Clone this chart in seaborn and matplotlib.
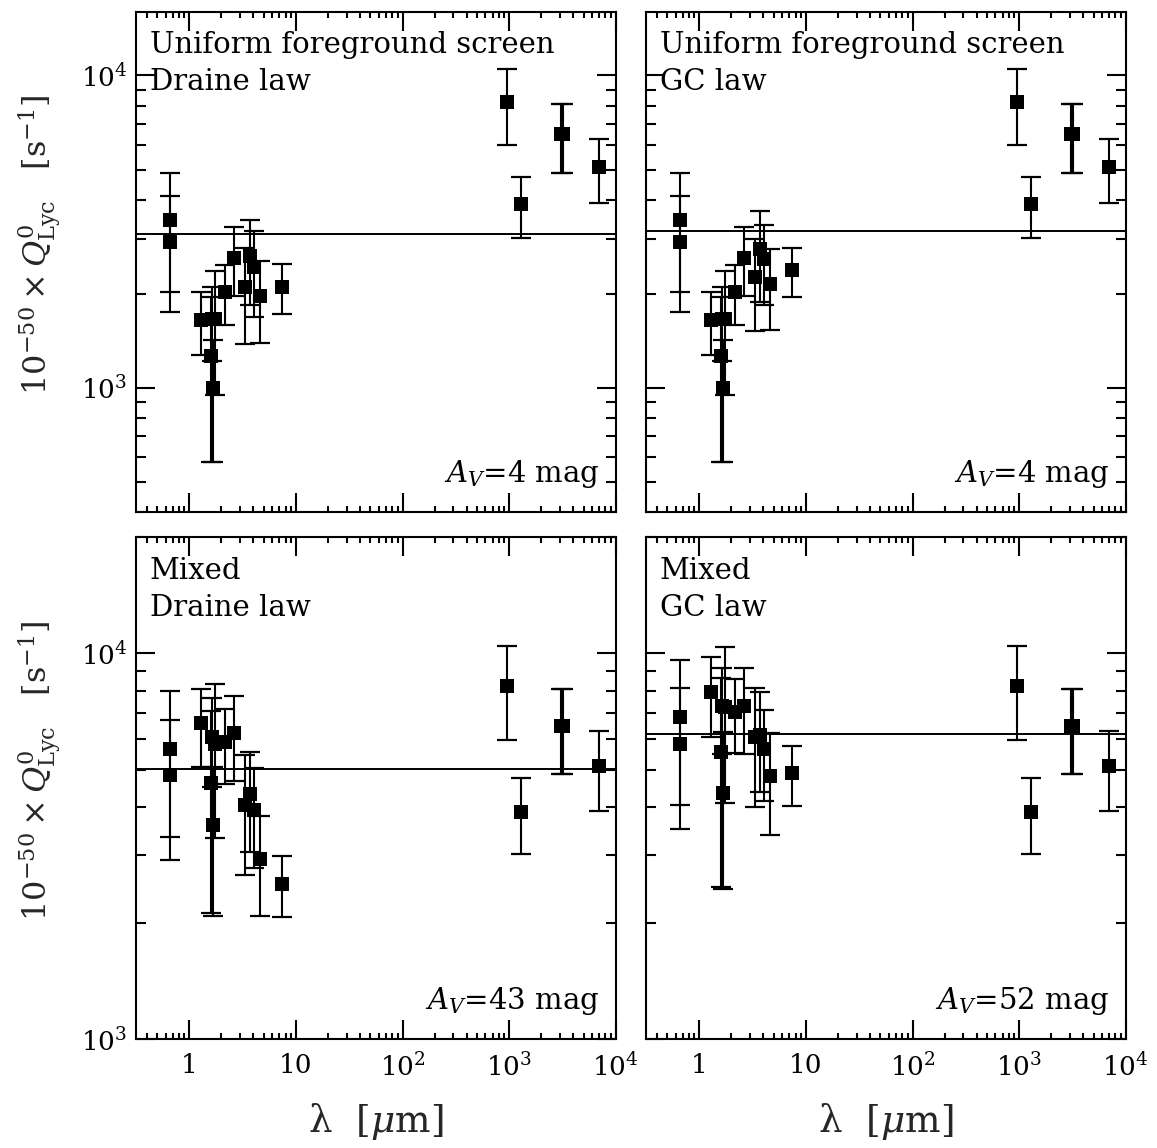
import numpy as np
import pandas as pd
import matplotlib
matplotlib.use("Agg")
import matplotlib.pyplot as plt
import seaborn as sns
from matplotlib.ticker import FixedLocator, FixedFormatter, LogLocator, NullFormatter

# ---------------- data ----------------
line_names = ["Ha_a", "Ha_b", "Pab", "Br13", "Br12", "Br11", "Br10", "Brg", "Brb",
              "Pfd", "Pfg", "Bra", "Pfb", "Pfa", "R1", "R2", "R3a", "R3b", "R4"]
wavelength_um = [0.6563, 0.6563, 1.282, 1.611, 1.641, 1.681, 1.737, 2.166, 2.626,
                 3.297, 3.741, 4.052, 4.654, 7.460, 946, 1288, 3035, 3212, 6985]

q_screen_draine = [3460, 2940, 1653, 1268, 1660, 1000, 1661, 2035, 2615,
                   2097, 2647, 2430, 1973, 2107, 8220, 3890, 6480, 6480, 5094]
err_screen_draine = [1425, 1185, 380, 690, 437, 420, 713, 444, 650,
                     712, 800, 740, 580, 378, 2240, 860, 1620, 1620, 1190]

q_screen_gc = [3460, 2940, 1653, 1268, 1660, 1000, 1661, 2035, 2615,
               2257, 2781, 2583, 2159, 2383, 8220, 3890, 6480, 6480, 5094]
err_screen_gc = [1425, 1185, 380, 690, 437, 420, 713, 444, 650,
                 740, 894, 736, 625, 424, 2240, 860, 1620, 1620, 1190]

q_mixed_draine = [5657, 4828, 6592, 4611, 6087, 3584, 5830, 5888, 6212,
                  4054, 4311, 3919, 2939, 2533, 8220, 3890, 6480, 6480, 5094]
err_mixed_draine = [2316, 1914, 1518, 2490, 1580, 1500, 2500, 1302, 1535,
                    1389, 1245, 1140, 850, 456, 2240, 860, 1620, 1620, 1190]

q_mixed_gc = [6830, 5830, 7927, 5546, 7323, 4345, 7250, 7038, 7323,
              6064, 6162, 5657, 4799, 4894, 8220, 3890, 6480, 6480, 5094]
err_mixed_gc = [2780, 2322, 1841, 3070, 1850, 1900, 3150, 1530, 1830,
                2062, 1780, 1500, 1410, 874, 2240, 860, 1620, 1620, 1190]

mean_q = [3105, 3182, 5024, 6186]
panel_line1 = ["Uniform foreground screen", "Uniform foreground screen", "Mixed", "Mixed"]
panel_line2 = ["Draine law", "GC law", "Draine law", "GC law"]
av_mag = [4, 4, 43, 52]

x_ticks = [1, 10, 100, 1000, 10000]
x_tick_labels = ["1", "10", "$10^2$", "$10^3$", "$10^4$"]
y_ticks = [1000, 10000]
y_tick_labels = ["$10^3$", "$10^4$"]

# ---------------- style ----------------
sns.set_theme(style="ticks")
plt.rcParams["font.family"] = ["DejaVu Serif"]
plt.rcParams["mathtext.fontset"] = "dejavuserif"
plt.rcParams["axes.edgecolor"] = "black"
plt.rcParams["axes.linewidth"] = 1.5
plt.rcParams["xtick.color"] = "black"
plt.rcParams["ytick.color"] = "black"

fig = plt.figure(figsize=(11.57, 11.48), dpi=100)

positions = [(0.11755, 0.55375, 0.41461, 0.43606),
             (0.55834, 0.55375, 0.41461, 0.43606),
             (0.11755, 0.09469, 0.41461, 0.43728),
             (0.55834, 0.09469, 0.41461, 0.43728)]
q_sets = [q_screen_draine, q_screen_gc, q_mixed_draine, q_mixed_gc]
err_sets = [err_screen_draine, err_screen_gc, err_mixed_draine, err_mixed_gc]
ylims = [(400, 16000), (400, 16000), (1000, 20000), (1000, 20000)]

for i in range(4):
    ax = fig.add_axes(positions[i])
    ax.set_xscale("log")
    ax.set_yscale("log")
    df = pd.DataFrame({"line": line_names, "wavelength": wavelength_um,
                       "Q": q_sets[i], "err": err_sets[i]})
    ax.axhline(mean_q[i], color="black", lw=1.4, zorder=1)
    ax.errorbar(df["wavelength"], df["Q"], yerr=df["err"], fmt="none",
                ecolor="black", elinewidth=1.5, capsize=7, capthick=1.6, zorder=2)
    sns.scatterplot(data=df, x="wavelength", y="Q", marker="s", s=100,
                    color="black", linewidth=0, ax=ax, zorder=3, legend=False)
    ax.set_xlim(10 ** -0.5, 1e4)
    ax.set_ylim(*ylims[i])
    ax.set_xlabel("")
    ax.set_ylabel("")

    ax.xaxis.set_major_locator(FixedLocator(x_ticks))
    ax.xaxis.set_minor_locator(LogLocator(base=10, subs=np.arange(2, 10), numticks=100))
    ax.xaxis.set_minor_formatter(NullFormatter())
    ax.yaxis.set_major_locator(FixedLocator(y_ticks))
    ax.yaxis.set_minor_locator(LogLocator(base=10, subs=np.arange(2, 10), numticks=100))
    ax.yaxis.set_minor_formatter(NullFormatter())
    if i >= 2:
        ax.xaxis.set_major_formatter(FixedFormatter(x_tick_labels))
    else:
        ax.xaxis.set_major_formatter(NullFormatter())
    if i % 2 == 0:
        ax.yaxis.set_major_formatter(FixedFormatter(y_tick_labels))
    else:
        ax.yaxis.set_major_formatter(NullFormatter())

    ax.tick_params(which="both", direction="in", top=True, right=True,
                   width=1.5, labelsize=19)
    ax.tick_params(which="major", length=14)
    ax.tick_params(axis="x", which="minor", length=4.5)
    ax.tick_params(axis="y", which="minor", length=7.5)
    ax.tick_params(axis="x", which="major", pad=10)
    ax.tick_params(axis="y", which="major", pad=6)
    for sp in ax.spines.values():
        sp.set_linewidth(1.5)
        sp.set_color("black")

    ax.text(0.029, 0.9175, panel_line1[i], transform=ax.transAxes,
            fontsize=21, ha="left", va="baseline", color="black")
    ax.text(0.029, 0.8436, panel_line2[i], transform=ax.transAxes,
            fontsize=21, ha="left", va="baseline", color="black")
    ax.text(0.966, 0.06, r"$A_V$=%d mag" % av_mag[i], transform=ax.transAxes,
            fontsize=21, ha="right", va="baseline", color="black")

ylabel = r"$10^{-50}\times Q^{0}_{\rm Lyc}$   [s$^{-1}$]"
fig.text(40 / 1157, 1 - 245 / 1148, ylabel, rotation=90, ha="center", va="center", fontsize=23)
fig.text(40 / 1157, 1 - 771 / 1148, ylabel, rotation=90, ha="center", va="center", fontsize=23)
xlabel = r"λ  [$\mu$m]"
fig.text(376 / 1157, 1 - 1122 / 1148, xlabel, ha="center", va="center", fontsize=27)
fig.text(886 / 1157, 1 - 1122 / 1148, xlabel, ha="center", va="center", fontsize=27)

fig.savefig("out.png", dpi=100)
